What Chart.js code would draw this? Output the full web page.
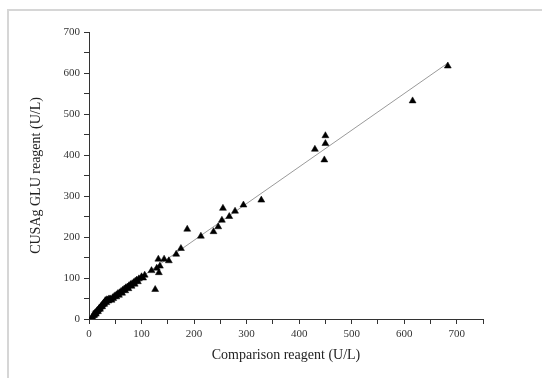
<!DOCTYPE html>
<html>
<head>
<meta charset="utf-8">
<script src="https://cdn.jsdelivr.net/npm/chart.js@4/dist/chart.umd.min.js"></script>
<style>
  html, body { margin: 0; padding: 0; background: #fff; }
  #wrap { position: relative; width: 542px; height: 378px; overflow: hidden; }
  #frame { position: absolute; left: 7px; top: 9px; right: -10px; bottom: -10px;
           border-top: 2px solid #d6d6d6; border-left: 2px solid #d6d6d6; pointer-events: none; }
  canvas { position: absolute; left: 0; top: 0; }
</style>
</head>
<body>
<div id="wrap">
  <canvas id="c" width="542" height="378"></canvas>
  <div id="frame"></div>
</div>
<script>
// Comparison reagent (U/L) values
const comparisonX = [6,8,9,10,11,12,13,14,15,16,17,18,19,20,21,22,23,24,25,26,27,28,29,30,31,32,33,34,35,37,38,39,41,43,45,46,48,50,52,53,55,57,58,61,63,64,67,69,70,73,75,76,79,81,82,85,87,88,91,93,95,100,103,106,
  119,126,129,133,135,132,143,152,166,175,187,213,237,246,253,255,267,278,294,328,430,448,450,450,616,683];
// CUSAg GLU reagent (U/L) values
const cusagY = [5,8,11,9,13,15,12,17,19,21,18,23,25,27,24,29,31,33,30,35,37,39,36,41,45,44,40,47,46,44,49,47,49,46,52,50,55,57,54,59,62,58,64,67,63,70,73,69,76,78,74,81,84,80,86,89,85,92,95,91,98,103,100,107,
  118,72,124,113,129,146,146,142,158,172,219,202,213,225,241,270,250,263,278,290,414,388,428,447,532,617];
// Regression line end points
const fitX = [5, 684];
const fitY = [17.5, 625];
// Axis settings
const xMax = 750, yMax = 700, tickStep = 50, labelStep = 100;

const points = comparisonX.map((x, i) => ({x: x, y: cusagY[i]}));
const fitLine = fitX.map((x, i) => ({x: x, y: fitY[i]}));

const serif = '"Liberation Serif", "Times New Roman", serif';
const tickLabel = v => (v % labelStep === 0 ? String(v) : '');

new Chart(document.getElementById('c'), {
  type: 'scatter',
  data: {
    datasets: [
      { type: 'line', data: fitLine, borderColor: '#9a9a9a', borderWidth: 1, pointRadius: 0, fill: false, order: 2 },
      { data: points, pointStyle: 'triangle', pointRadius: 4, pointBackgroundColor: '#000', pointBorderColor: '#000', pointBorderWidth: 0.5, order: 1 }
    ]
  },
  options: {
    responsive: false,
    animation: false,
    events: [],
    layout: { padding: { left: 0, top: 32, right: 59, bottom: 0 } },
    plugins: { legend: { display: false }, tooltip: { enabled: false } },
    scales: {
      x: {
        type: 'linear', min: 0, max: xMax,
        grid: { display: true, drawOnChartArea: false, drawTicks: true, tickLength: 5, tickColor: '#333', tickWidth: 1 },
        border: { display: true, color: '#333', width: 1 },
        ticks: { stepSize: tickStep, autoSkip: false, maxRotation: 0, padding: 4, color: '#333', font: { family: serif, size: 11 }, callback: tickLabel },
        title: { display: true, text: 'Comparison reagent (U/L)', color: '#222', font: { family: serif, size: 14 }, padding: { top: 0, bottom: 14.6 } },
        afterFit: s => { s.height = 59; }
      },
      y: {
        type: 'linear', min: 0, max: yMax,
        grid: { display: true, drawOnChartArea: false, drawTicks: true, tickLength: 5, tickColor: '#333', tickWidth: 1 },
        border: { display: true, color: '#333', width: 1 },
        ticks: { stepSize: tickStep, autoSkip: false, padding: 4, color: '#333', font: { family: serif, size: 11 }, callback: tickLabel },
        title: { display: true, text: 'CUSAg GLU reagent (U/L)', color: '#222', font: { family: serif, size: 14 }, padding: { top: 27.6, bottom: 0 } },
        afterFit: s => { s.width = 89; }
      }
    }
  }
});
</script>
</body>
</html>
